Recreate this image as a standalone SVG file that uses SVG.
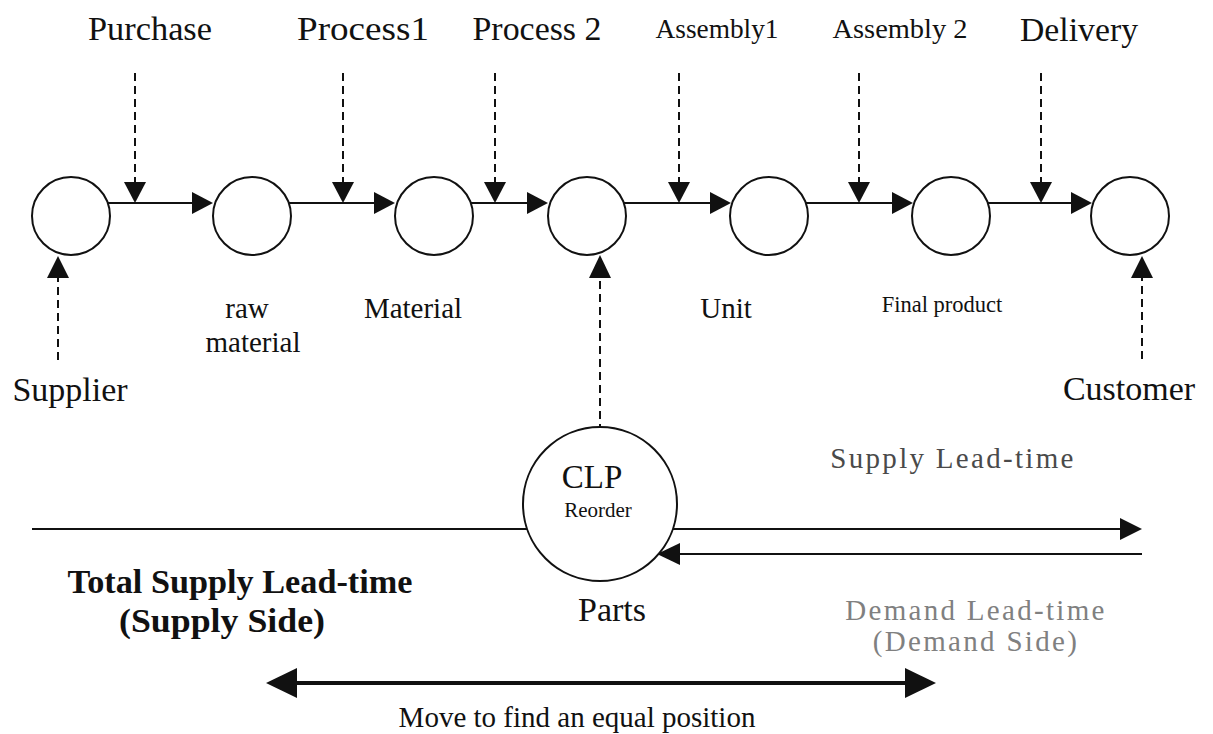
<svg xmlns="http://www.w3.org/2000/svg" width="1213" height="734" viewBox="0 0 1213 734">
  <style>
    text { font-family: "Liberation Serif", "Times New Roman", serif; fill: #111; }
    .node { fill: #fff; stroke: #111; stroke-width: 2; }
    .flow { stroke: #111; stroke-width: 2; fill: none; }
    .dash { stroke: #111; stroke-width: 2; fill: none; stroke-dasharray: 8 5; }
    .head { fill: #111; stroke: none; }
    .top { font-size: 34px; text-anchor: middle; }
    .topS { font-size: 27px; text-anchor: middle; }
    .lbl { font-size: 29px; text-anchor: middle; }
    .side { font-size: 34px; text-anchor: middle; }
    .bold { font-size: 33px; font-weight: bold; text-anchor: middle; }
    .grey { font-size: 29px; text-anchor: middle; fill: #4a4a4a; letter-spacing: 2.3px; }
    .pale { font-size: 29px; text-anchor: middle; fill: #808080; letter-spacing: 2.3px; }
  </style>
  <rect width="1213" height="734" fill="#fff"/>

  <!-- connectors -->
  <g id="connectors">
    <!-- main flow between stock points -->
    <line class="flow" x1="108" y1="203" x2="200" y2="203"/>
    <polygon class="head" points="213,203 192,192 192,214"/>
    <line class="flow" x1="289" y1="203" x2="382" y2="203"/>
    <polygon class="head" points="395,203 374,192 374,214"/>
    <line class="flow" x1="471" y1="203" x2="535" y2="203"/>
    <polygon class="head" points="548,203 527,192 527,214"/>
    <line class="flow" x1="624" y1="203" x2="718" y2="203"/>
    <polygon class="head" points="731,203 710,192 710,214"/>
    <line class="flow" x1="806" y1="203" x2="900" y2="203"/>
    <polygon class="head" points="913,203 892,192 892,214"/>
    <line class="flow" x1="988" y1="203" x2="1079" y2="203"/>
    <polygon class="head" points="1092,203 1071,192 1071,214"/>

    <!-- activities feeding the flow -->
    <line class="dash" x1="135" y1="73" x2="135" y2="183"/>
    <polygon class="head" points="135,203 124,182 146,182"/>
    <line class="dash" x1="343" y1="73" x2="343" y2="183"/>
    <polygon class="head" points="343,203 332,182 354,182"/>
    <line class="dash" x1="495" y1="73" x2="495" y2="183"/>
    <polygon class="head" points="495,203 484,182 506,182"/>
    <line class="dash" x1="679" y1="73" x2="679" y2="183"/>
    <polygon class="head" points="679,203 668,182 690,182"/>
    <line class="dash" x1="859" y1="73" x2="859" y2="183"/>
    <polygon class="head" points="859,203 848,182 870,182"/>
    <line class="dash" x1="1041" y1="73" x2="1041" y2="183"/>
    <polygon class="head" points="1041,203 1030,182 1052,182"/>

    <!-- supplier, customer and CLP links -->
    <line class="dash" x1="58" y1="360" x2="58" y2="277"/>
    <polygon class="head" points="58,256 47,278 69,278"/>
    <line class="dash" x1="1142" y1="359" x2="1142" y2="277"/>
    <polygon class="head" points="1142,256 1131,278 1153,278"/>
    <line class="dash" x1="600" y1="432" x2="600" y2="277"/>
    <polygon class="head" points="600,255 589,278 611,278"/>

    <!-- lead-time lines -->
    <line class="flow" x1="32" y1="529" x2="528" y2="529"/>
    <line class="flow" x1="672" y1="529" x2="1124" y2="529"/>
    <polygon class="head" points="1142,529 1120,518 1120,540"/>
    <line class="flow" x1="1142" y1="554" x2="676" y2="554"/>
    <polygon class="head" points="657,554 680,543 680,565"/>

    <!-- shift arrow -->
    <line stroke="#111" stroke-width="4" x1="290" y1="683" x2="912" y2="683"/>
    <polygon class="head" points="266,683 297,668 297,698"/>
    <polygon class="head" points="936,683 905,668 905,698"/>
  </g>

  <!-- stock points -->
  <g id="supplier-stock"><circle class="node" cx="71" cy="216" r="39"/></g>
  <g id="raw-material"><circle class="node" cx="252" cy="216" r="39"/></g>
  <g id="material"><circle class="node" cx="434" cy="216" r="39"/></g>
  <g id="parts-stock"><circle class="node" cx="587" cy="216" r="39"/></g>
  <g id="unit"><circle class="node" cx="769" cy="216" r="39"/></g>
  <g id="final-product"><circle class="node" cx="951" cy="216" r="39"/></g>
  <g id="customer-stock"><circle class="node" cx="1130" cy="216" r="39"/></g>
  <g id="clp">
    <circle class="node" cx="600" cy="504" r="77"/>
    <text x="592" y="488" style="font-size:33px;text-anchor:middle">CLP</text>
    <text x="598" y="517" style="font-size:21px;text-anchor:middle">Reorder</text>
  </g>

  <!-- activity labels -->
  <g id="activities">
    <text class="top" x="150" y="40" textLength="124" lengthAdjust="spacingAndGlyphs">Purchase</text>
    <text class="top" x="363" y="40" textLength="132" lengthAdjust="spacingAndGlyphs">Process1</text>
    <text class="top" x="537" y="40" textLength="129" lengthAdjust="spacingAndGlyphs">Process 2</text>
    <text class="topS" x="717" y="38" textLength="123" lengthAdjust="spacingAndGlyphs">Assembly1</text>
    <text class="topS" x="900" y="38" textLength="135" lengthAdjust="spacingAndGlyphs">Assembly 2</text>
    <text class="top" x="1079" y="41" textLength="118" lengthAdjust="spacingAndGlyphs">Delivery</text>
  </g>

  <!-- stock labels -->
  <g id="labels">
    <text class="lbl" x="247" y="318">raw</text>
    <text class="lbl" x="253" y="352">material</text>
    <text class="lbl" x="413" y="318">Material</text>
    <text class="lbl" x="726" y="318">Unit</text>
    <text x="942" y="312" style="font-size:22.5px;text-anchor:middle">Final product</text>
    <text class="side" x="70" y="401">Supplier</text>
    <text class="side" x="1129" y="400">Customer</text>
    <text class="side" x="612" y="621">Parts</text>
  </g>

  <!-- lead-time annotations -->
  <g id="lead-time">
    <text class="grey" x="953" y="468">Supply Lead-time</text>
    <text class="bold" x="240" y="593" textLength="345" lengthAdjust="spacingAndGlyphs">Total Supply Lead-time</text>
    <text class="bold" x="222" y="632" textLength="206" lengthAdjust="spacingAndGlyphs">(Supply Side)</text>
    <text class="pale" x="976" y="620">Demand Lead-time</text>
    <text class="pale" x="976" y="651">(Demand Side)</text>
    <text x="577" y="727" style="font-size:29px;text-anchor:middle">Move to find an equal position</text>
  </g>
</svg>
